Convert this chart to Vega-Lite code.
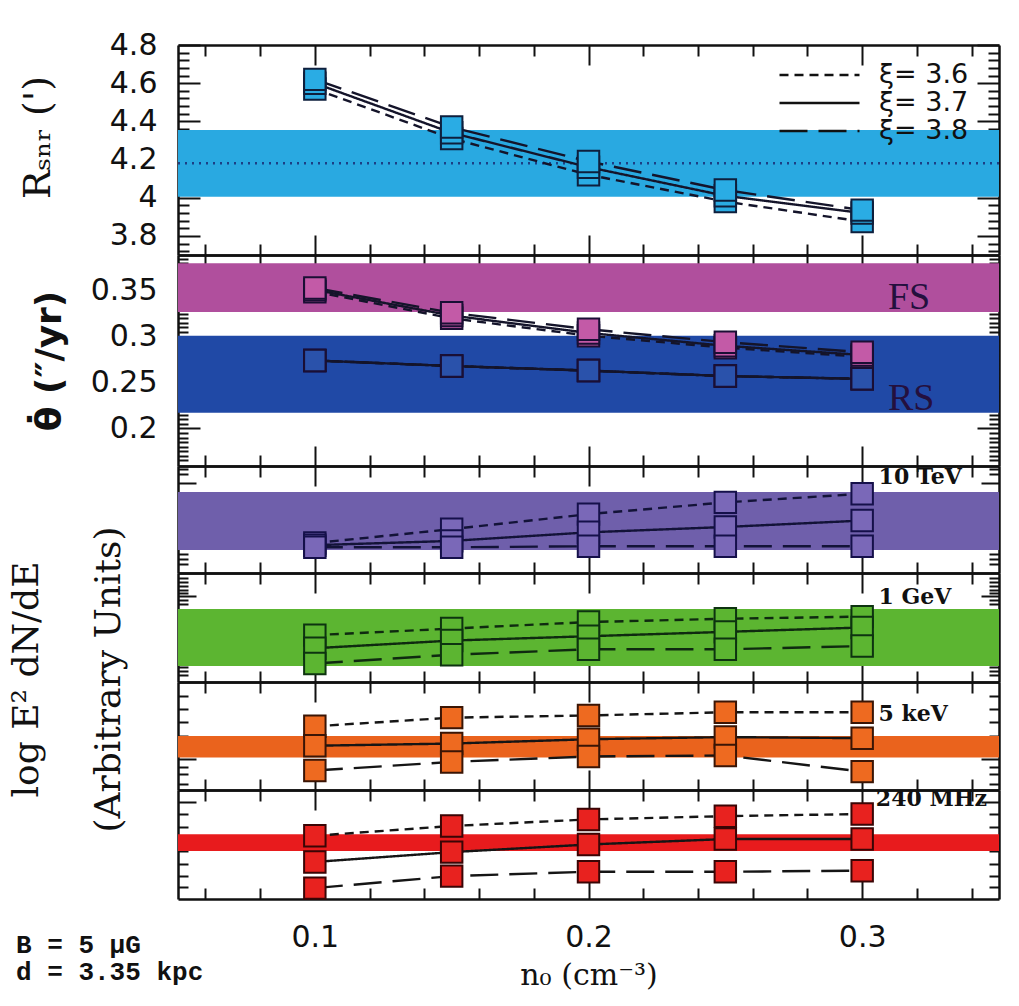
{
"$schema": "https://vega.github.io/schema/vega-lite/v6.json",
"background": "white",
"padding": {"left": 8, "top": 30, "right": 18, "bottom": 8},
"spacing": 0,
"bounds": "flush",
"title": {"text": ["B = 5 μG", "d = 3.35 kpc"], "orient": "bottom", "anchor": "start", "frame": "bounds", "font": "Liberation Mono", "fontSize": 26, "fontWeight": "bold", "color": "#111", "lineHeight": 27, "offset": -58, "dx": 8},
"resolve": {"legend": {"strokeDash": "independent"}},
"config": {
  "view": {"stroke": null},
  "axis": {"grid": false, "domainColor": "#111", "domainWidth": 2.5, "tickColor": "#111", "tickWidth": 2, "labelFont": "DejaVu Sans", "labelFontSize": 30, "labelColor": "#111", "labelOverlap": false, "labelFlush": false, "titleFont": "DejaVu Serif", "titleFontSize": 30, "titleColor": "#111", "titleFontWeight": "normal"}
},
"datasets": {
  "bands": [
    {"band": "R", "lo": 4.005, "hi": 4.355, "mid": 4.18, "label": ""},
    {"band": "FS", "lo": 0.327, "hi": 0.38, "mid": 0.353, "label": "FS"},
    {"band": "RS", "lo": 0.217, "hi": 0.301, "mid": 0.259, "label": "RS"},
    {"band": "TeV", "lo": 0.215, "hi": 0.757, "mid": 0.486, "label": "10 TeV"},
    {"band": "GeV", "lo": 0.147, "hi": 0.67, "mid": 0.41, "label": "1 GeV"},
    {"band": "keV", "lo": 0.3, "hi": 0.5, "mid": 0.4, "label": "5 keV"},
    {"band": "MHz", "lo": 0.44, "hi": 0.595, "mid": 0.52, "label": "240 MHz"}
  ],
  "rsnr": [
    {"n0": 0.1, "xi": "3.6", "v": 4.57}, {"n0": 0.15, "xi": "3.6", "v": 4.31}, {"n0": 0.2, "xi": "3.6", "v": 4.12}, {"n0": 0.25, "xi": "3.6", "v": 3.98}, {"n0": 0.3, "xi": "3.6", "v": 3.875},
    {"n0": 0.1, "xi": "3.7", "v": 4.6}, {"n0": 0.15, "xi": "3.7", "v": 4.34}, {"n0": 0.2, "xi": "3.7", "v": 4.16}, {"n0": 0.25, "xi": "3.7", "v": 4.01}, {"n0": 0.3, "xi": "3.7", "v": 3.92},
    {"n0": 0.1, "xi": "3.8", "v": 4.62}, {"n0": 0.15, "xi": "3.8", "v": 4.37}, {"n0": 0.2, "xi": "3.8", "v": 4.19}, {"n0": 0.25, "xi": "3.8", "v": 4.04}, {"n0": 0.3, "xi": "3.8", "v": 3.935}
  ],
  "theta": [
    {"n0": 0.1, "xi": "3.6", "shock": "FS", "v": 0.349}, {"n0": 0.15, "xi": "3.6", "shock": "FS", "v": 0.32}, {"n0": 0.2, "xi": "3.6", "shock": "FS", "v": 0.301}, {"n0": 0.25, "xi": "3.6", "shock": "FS", "v": 0.288}, {"n0": 0.3, "xi": "3.6", "shock": "FS", "v": 0.278},
    {"n0": 0.1, "xi": "3.7", "shock": "FS", "v": 0.351}, {"n0": 0.15, "xi": "3.7", "shock": "FS", "v": 0.323}, {"n0": 0.2, "xi": "3.7", "shock": "FS", "v": 0.304}, {"n0": 0.25, "xi": "3.7", "shock": "FS", "v": 0.29}, {"n0": 0.3, "xi": "3.7", "shock": "FS", "v": 0.28},
    {"n0": 0.1, "xi": "3.8", "shock": "FS", "v": 0.353}, {"n0": 0.15, "xi": "3.8", "shock": "FS", "v": 0.326}, {"n0": 0.2, "xi": "3.8", "shock": "FS", "v": 0.308}, {"n0": 0.25, "xi": "3.8", "shock": "FS", "v": 0.294}, {"n0": 0.3, "xi": "3.8", "shock": "FS", "v": 0.283},
    {"n0": 0.1, "xi": "3.6", "shock": "RS", "v": 0.274}, {"n0": 0.15, "xi": "3.6", "shock": "RS", "v": 0.268}, {"n0": 0.2, "xi": "3.6", "shock": "RS", "v": 0.263}, {"n0": 0.25, "xi": "3.6", "shock": "RS", "v": 0.257}, {"n0": 0.3, "xi": "3.6", "shock": "RS", "v": 0.254},
    {"n0": 0.1, "xi": "3.7", "shock": "RS", "v": 0.274}, {"n0": 0.15, "xi": "3.7", "shock": "RS", "v": 0.268}, {"n0": 0.2, "xi": "3.7", "shock": "RS", "v": 0.263}, {"n0": 0.25, "xi": "3.7", "shock": "RS", "v": 0.257}, {"n0": 0.3, "xi": "3.7", "shock": "RS", "v": 0.254},
    {"n0": 0.1, "xi": "3.8", "shock": "RS", "v": 0.274}, {"n0": 0.15, "xi": "3.8", "shock": "RS", "v": 0.268}, {"n0": 0.2, "xi": "3.8", "shock": "RS", "v": 0.263}, {"n0": 0.25, "xi": "3.8", "shock": "RS", "v": 0.257}, {"n0": 0.3, "xi": "3.8", "shock": "RS", "v": 0.254}
  ],
  "spec": [
    {"band": "TeV", "n0": 0.1, "xi": "3.6", "v": 0.28}, {"band": "TeV", "n0": 0.15, "xi": "3.6", "v": 0.41}, {"band": "TeV", "n0": 0.2, "xi": "3.6", "v": 0.55}, {"band": "TeV", "n0": 0.25, "xi": "3.6", "v": 0.66}, {"band": "TeV", "n0": 0.3, "xi": "3.6", "v": 0.74},
    {"band": "TeV", "n0": 0.1, "xi": "3.7", "v": 0.26}, {"band": "TeV", "n0": 0.15, "xi": "3.7", "v": 0.3}, {"band": "TeV", "n0": 0.2, "xi": "3.7", "v": 0.38}, {"band": "TeV", "n0": 0.25, "xi": "3.7", "v": 0.43}, {"band": "TeV", "n0": 0.3, "xi": "3.7", "v": 0.49},
    {"band": "TeV", "n0": 0.1, "xi": "3.8", "v": 0.24}, {"band": "TeV", "n0": 0.15, "xi": "3.8", "v": 0.24}, {"band": "TeV", "n0": 0.2, "xi": "3.8", "v": 0.25}, {"band": "TeV", "n0": 0.25, "xi": "3.8", "v": 0.25}, {"band": "TeV", "n0": 0.3, "xi": "3.8", "v": 0.25},
    {"band": "GeV", "n0": 0.1, "xi": "3.6", "v": 0.43}, {"band": "GeV", "n0": 0.15, "xi": "3.6", "v": 0.49}, {"band": "GeV", "n0": 0.2, "xi": "3.6", "v": 0.55}, {"band": "GeV", "n0": 0.25, "xi": "3.6", "v": 0.58}, {"band": "GeV", "n0": 0.3, "xi": "3.6", "v": 0.6},
    {"band": "GeV", "n0": 0.1, "xi": "3.7", "v": 0.31}, {"band": "GeV", "n0": 0.15, "xi": "3.7", "v": 0.38}, {"band": "GeV", "n0": 0.2, "xi": "3.7", "v": 0.42}, {"band": "GeV", "n0": 0.25, "xi": "3.7", "v": 0.46}, {"band": "GeV", "n0": 0.3, "xi": "3.7", "v": 0.5},
    {"band": "GeV", "n0": 0.1, "xi": "3.8", "v": 0.17}, {"band": "GeV", "n0": 0.15, "xi": "3.8", "v": 0.25}, {"band": "GeV", "n0": 0.2, "xi": "3.8", "v": 0.3}, {"band": "GeV", "n0": 0.25, "xi": "3.8", "v": 0.3}, {"band": "GeV", "n0": 0.3, "xi": "3.8", "v": 0.33},
    {"band": "keV", "n0": 0.1, "xi": "3.6", "v": 0.59}, {"band": "keV", "n0": 0.15, "xi": "3.6", "v": 0.67}, {"band": "keV", "n0": 0.2, "xi": "3.6", "v": 0.69}, {"band": "keV", "n0": 0.25, "xi": "3.6", "v": 0.72}, {"band": "keV", "n0": 0.3, "xi": "3.6", "v": 0.72},
    {"band": "keV", "n0": 0.1, "xi": "3.7", "v": 0.41}, {"band": "keV", "n0": 0.15, "xi": "3.7", "v": 0.43}, {"band": "keV", "n0": 0.2, "xi": "3.7", "v": 0.47}, {"band": "keV", "n0": 0.25, "xi": "3.7", "v": 0.49}, {"band": "keV", "n0": 0.3, "xi": "3.7", "v": 0.48},
    {"band": "keV", "n0": 0.1, "xi": "3.8", "v": 0.18}, {"band": "keV", "n0": 0.15, "xi": "3.8", "v": 0.26}, {"band": "keV", "n0": 0.2, "xi": "3.8", "v": 0.31}, {"band": "keV", "n0": 0.25, "xi": "3.8", "v": 0.32}, {"band": "keV", "n0": 0.3, "xi": "3.8", "v": 0.17},
    {"band": "MHz", "n0": 0.1, "xi": "3.6", "v": 0.58}, {"band": "MHz", "n0": 0.15, "xi": "3.6", "v": 0.67}, {"band": "MHz", "n0": 0.2, "xi": "3.6", "v": 0.73}, {"band": "MHz", "n0": 0.25, "xi": "3.6", "v": 0.76}, {"band": "MHz", "n0": 0.3, "xi": "3.6", "v": 0.78},
    {"band": "MHz", "n0": 0.1, "xi": "3.7", "v": 0.34}, {"band": "MHz", "n0": 0.15, "xi": "3.7", "v": 0.43}, {"band": "MHz", "n0": 0.2, "xi": "3.7", "v": 0.5}, {"band": "MHz", "n0": 0.25, "xi": "3.7", "v": 0.55}, {"band": "MHz", "n0": 0.3, "xi": "3.7", "v": 0.55},
    {"band": "MHz", "n0": 0.1, "xi": "3.8", "v": 0.1}, {"band": "MHz", "n0": 0.15, "xi": "3.8", "v": 0.21}, {"band": "MHz", "n0": 0.2, "xi": "3.8", "v": 0.25}, {"band": "MHz", "n0": 0.25, "xi": "3.8", "v": 0.25}, {"band": "MHz", "n0": 0.3, "xi": "3.8", "v": 0.26}
  ]
},
"vconcat": [
  {
    "width": 821, "height": 210,
    "resolve": {"axis": {"x": "independent", "y": "independent"}},
    "layer": [
      {"data": {"name": "bands"}, "transform": [{"filter": "datum.band === 'R'"}],
       "mark": {"type": "rect", "color": "#29a9e1"},
       "encoding": {
         "x": {"datum": 0.05, "type": "quantitative", "scale": {"domain": [0.05, 0.35], "nice": false, "zero": false}, "axis": {"orient": "bottom", "values": [0.1, 0.2, 0.3], "tickSize": -20, "labels": false, "title": null}},
         "x2": {"datum": 0.35},
         "y": {"field": "lo", "type": "quantitative", "scale": {"domain": [3.7, 4.8], "nice": false, "zero": false}, "axis": {"orient": "left", "values": [3.8, 4, 4.2, 4.4, 4.6, 4.8], "tickSize": -22, "labelPadding": 43, "labelExpr": "'' + datum.value", "title": "Rₛₙᵣ (')", "titleFontSize": 38, "titlePadding": 52, "titleY": 92}},
         "y2": {"field": "hi"}}},
      {"data": {"name": "bands"}, "transform": [{"filter": "datum.band === 'R'"}],
       "mark": {"type": "rule", "color": "#1c3f85", "strokeWidth": 2.5, "strokeDash": [2, 5]},
       "encoding": {
         "x": {"datum": 0.05, "type": "quantitative", "scale": {"domain": [0.05, 0.35], "nice": false, "zero": false}, "axis": {"orient": "bottom", "values": [0.06, 0.08, 0.12, 0.14, 0.16, 0.18, 0.22, 0.24, 0.26, 0.28, 0.32, 0.34], "tickSize": -11, "labels": false, "title": null, "domain": false}},
         "x2": {"datum": 0.35},
         "y": {"field": "mid", "type": "quantitative", "scale": {"domain": [3.7, 4.8], "nice": false, "zero": false}, "axis": {"orient": "left", "values": [3.72, 3.76, 3.84, 3.88, 3.92, 3.96, 4.04, 4.08, 4.12, 4.16, 4.24, 4.28, 4.32, 4.36, 4.44, 4.48, 4.52, 4.56, 4.64, 4.68, 4.72, 4.76], "tickSize": -11, "labels": false, "title": null, "domain": false}}}},
      {"data": {"name": "rsnr"},
       "mark": {"type": "line", "color": "#14142a", "strokeWidth": 2.4},
       "encoding": {
         "x": {"field": "n0", "type": "quantitative", "scale": {"domain": [0.05, 0.35], "nice": false, "zero": false}, "axis": {"orient": "top", "values": [0.1, 0.2, 0.3], "tickSize": -20, "labels": false, "title": null}},
         "y": {"field": "v", "type": "quantitative", "scale": {"domain": [3.7, 4.8], "nice": false, "zero": false}, "axis": {"orient": "right", "values": [3.8, 4, 4.2, 4.4, 4.6, 4.8], "tickSize": -22, "labels": false, "title": null}},
         "strokeDash": {"field": "xi", "type": "nominal", "scale": {"domain": ["3.6", "3.7", "3.8"], "range": [[9, 6], [1, 0], [28, 11]]},
           "legend": {"orient": "none", "legendX": 600, "legendY": 16, "title": null, "symbolType": "stroke", "symbolSize": 6400, "symbolStrokeWidth": 2.4, "symbolStrokeColor": "#111", "labelFont": "DejaVu Sans", "labelFontSize": 27, "labelColor": "#111", "labelExpr": "'ξ= ' + datum.label", "clipHeight": 28, "rowPadding": 0, "labelOffset": 18, "padding": 0}}}},
      {"data": {"name": "rsnr"},
       "mark": {"type": "point", "shape": "square", "filled": true, "fill": "#2aace4", "stroke": "#0e1f3d", "strokeWidth": 2, "size": 460, "opacity": 1},
       "encoding": {
         "x": {"field": "n0", "type": "quantitative", "scale": {"domain": [0.05, 0.35], "nice": false, "zero": false}, "axis": {"orient": "top", "values": [0.06, 0.08, 0.12, 0.14, 0.16, 0.18, 0.22, 0.24, 0.26, 0.28, 0.32, 0.34], "tickSize": -11, "labels": false, "title": null, "domain": false}},
         "y": {"field": "v", "type": "quantitative", "scale": {"domain": [3.7, 4.8], "nice": false, "zero": false}, "axis": {"orient": "right", "values": [3.72, 3.76, 3.84, 3.88, 3.92, 3.96, 4.04, 4.08, 4.12, 4.16, 4.24, 4.28, 4.32, 4.36, 4.44, 4.48, 4.52, 4.56, 4.64, 4.68, 4.72, 4.76], "tickSize": -11, "labels": false, "title": null, "domain": false}}}}
    ]
  },
  {
    "width": 821, "height": 211,
    "resolve": {"axis": {"x": "independent", "y": "independent"}},
    "layer": [
      {"data": {"name": "bands"}, "transform": [{"filter": "datum.band === 'FS' || datum.band === 'RS'"}],
       "mark": {"type": "rect"},
       "encoding": {
         "x": {"datum": 0.05, "type": "quantitative", "scale": {"domain": [0.05, 0.35], "nice": false, "zero": false}, "axis": {"orient": "bottom", "values": [0.1, 0.2, 0.3], "tickSize": -20, "labels": false, "title": null}},
         "x2": {"datum": 0.35},
         "y": {"field": "lo", "type": "quantitative", "scale": {"domain": [0.159, 0.389], "nice": false, "zero": false}, "axis": {"orient": "left", "values": [0.2, 0.25, 0.3, 0.35], "tickSize": -22, "labelPadding": 43, "labelExpr": "'' + datum.value", "title": "θ̇ (″/yr)", "titleFont": "DejaVu Sans", "titleFontWeight": "bold", "titleFontSize": 36, "titlePadding": 22}},
         "y2": {"field": "hi"},
         "color": {"field": "band", "type": "nominal", "scale": {"domain": ["FS", "RS"], "range": ["#b04f9d", "#2049a6"]}, "legend": null}}},
      {"data": {"name": "theta"},
       "mark": {"type": "line", "color": "#14142a", "strokeWidth": 2.4},
       "encoding": {
         "x": {"field": "n0", "type": "quantitative", "scale": {"domain": [0.05, 0.35], "nice": false, "zero": false}, "axis": {"orient": "bottom", "values": [0.06, 0.08, 0.12, 0.14, 0.16, 0.18, 0.22, 0.24, 0.26, 0.28, 0.32, 0.34], "tickSize": -11, "labels": false, "title": null, "domain": false}},
         "y": {"field": "v", "type": "quantitative", "scale": {"domain": [0.159, 0.389], "nice": false, "zero": false}, "axis": {"orient": "left", "values": [0.165, 0.17, 0.175, 0.18, 0.185, 0.19, 0.195, 0.205, 0.21, 0.215, 0.22, 0.225, 0.23, 0.235, 0.24, 0.245, 0.255, 0.26, 0.265, 0.27, 0.275, 0.28, 0.285, 0.29, 0.295, 0.305, 0.31, 0.315, 0.32, 0.325, 0.33, 0.335, 0.34, 0.345, 0.355, 0.36, 0.365, 0.37, 0.375, 0.38, 0.385], "tickSize": -10, "labels": false, "title": null, "domain": false}},
         "detail": {"field": "shock"},
         "strokeDash": {"field": "xi", "type": "nominal", "scale": {"domain": ["3.6", "3.7", "3.8"], "range": [[9, 6], [1, 0], [28, 11]]}, "legend": null}}},
      {"data": {"name": "theta"},
       "mark": {"type": "point", "shape": "square", "filled": true, "stroke": "#1a0f35", "strokeWidth": 2, "size": 460, "opacity": 1},
       "encoding": {
         "x": {"field": "n0", "type": "quantitative", "scale": {"domain": [0.05, 0.35], "nice": false, "zero": false}, "axis": {"orient": "top", "values": [0.1, 0.2, 0.3], "tickSize": -20, "labels": false, "title": null}},
         "y": {"field": "v", "type": "quantitative", "scale": {"domain": [0.159, 0.389], "nice": false, "zero": false}, "axis": {"orient": "right", "values": [0.2, 0.25, 0.3, 0.35], "tickSize": -22, "labels": false, "title": null}},
         "fill": {"field": "shock", "type": "nominal", "scale": {"domain": ["FS", "RS"], "range": ["#c35aa7", "#2a52ab"]}, "legend": null}}},
      {"data": {"name": "bands"}, "transform": [{"filter": "datum.band === 'FS' || datum.band === 'RS'"}],
       "mark": {"type": "text", "align": "left", "baseline": "bottom", "dy": 5, "font": "Liberation Serif", "fontSize": 38, "color": "#24103e"},
       "encoding": {
         "x": {"datum": 0.3094, "type": "quantitative", "scale": {"domain": [0.05, 0.35], "nice": false, "zero": false}, "axis": {"orient": "top", "values": [0.06, 0.08, 0.12, 0.14, 0.16, 0.18, 0.22, 0.24, 0.26, 0.28, 0.32, 0.34], "tickSize": -11, "labels": false, "title": null, "domain": false}},
         "y": {"field": "lo", "type": "quantitative", "scale": {"domain": [0.159, 0.389], "nice": false, "zero": false}, "axis": {"orient": "right", "values": [0.165, 0.17, 0.175, 0.18, 0.185, 0.19, 0.195, 0.205, 0.21, 0.215, 0.22, 0.225, 0.23, 0.235, 0.24, 0.245, 0.255, 0.26, 0.265, 0.27, 0.275, 0.28, 0.285, 0.29, 0.295, 0.305, 0.31, 0.315, 0.32, 0.325, 0.33, 0.335, 0.34, 0.345, 0.355, 0.36, 0.365, 0.37, 0.375, 0.38, 0.385], "tickSize": -10, "labels": false, "title": null, "domain": false}},
         "text": {"field": "label"}}}
    ]
  },
  {
    "width": 821, "height": 107,
    "resolve": {"axis": {"x": "independent", "y": "independent"}},
    "layer": [
      {"data": {"name": "bands"}, "transform": [{"filter": "datum.band === 'TeV'"}],
       "mark": {"type": "rect", "color": "#6f5fab"},
       "encoding": {
         "x": {"datum": 0.05, "type": "quantitative", "scale": {"domain": [0.05, 0.35], "nice": false, "zero": false}, "axis": {"orient": "bottom", "values": [0.1, 0.2, 0.3], "tickSize": -20, "labels": false, "title": null}},
         "x2": {"datum": 0.35},
         "y": {"field": "lo", "type": "quantitative", "scale": {"domain": [0, 1], "nice": false, "zero": false}, "axis": {"orient": "left", "values": [0.84], "tickSize": -18, "labels": false, "title": null}},
         "y2": {"field": "hi"}}},
      {"data": {"name": "spec"}, "transform": [{"filter": "datum.band === 'TeV'"}],
       "mark": {"type": "line", "color": "#131338", "strokeWidth": 2.4},
       "encoding": {
         "x": {"field": "n0", "type": "quantitative", "scale": {"domain": [0.05, 0.35], "nice": false, "zero": false}, "axis": {"orient": "bottom", "values": [0.06, 0.08, 0.12, 0.14, 0.16, 0.18, 0.22, 0.24, 0.26, 0.28, 0.32, 0.34], "tickSize": -11, "labels": false, "title": null, "domain": false}},
         "y": {"field": "v", "type": "quantitative", "scale": {"domain": [0, 1], "nice": false, "zero": false}, "axis": {"orient": "left", "values": [0.085, 0.13, 0.175, 0.925, 0.97], "tickSize": -10, "labels": false, "title": null, "domain": false}},
         "strokeDash": {"field": "xi", "type": "nominal", "scale": {"domain": ["3.6", "3.7", "3.8"], "range": [[9, 6], [1, 0], [28, 11]]}, "legend": null}}},
      {"data": {"name": "spec"}, "transform": [{"filter": "datum.band === 'TeV'"}],
       "mark": {"type": "point", "shape": "square", "filled": true, "fill": "#7a68b8", "stroke": "#15104a", "strokeWidth": 2, "size": 460, "opacity": 1},
       "encoding": {
         "x": {"field": "n0", "type": "quantitative", "scale": {"domain": [0.05, 0.35], "nice": false, "zero": false}, "axis": {"orient": "top", "values": [0.1, 0.2, 0.3], "tickSize": -20, "labels": false, "title": null}},
         "y": {"field": "v", "type": "quantitative", "scale": {"domain": [0, 1], "nice": false, "zero": false}, "axis": {"orient": "right", "values": [0.84], "tickSize": -18, "labels": false, "title": null}}}},
      {"data": {"name": "bands"}, "transform": [{"filter": "datum.band === 'TeV'"}],
       "mark": {"type": "text", "align": "left", "baseline": "middle", "font": "DejaVu Serif", "fontWeight": "bold", "fontSize": 22, "color": "#111"},
       "encoding": {
         "x": {"datum": 0.306, "type": "quantitative", "scale": {"domain": [0.05, 0.35], "nice": false, "zero": false}, "axis": {"orient": "top", "values": [0.06, 0.08, 0.12, 0.14, 0.16, 0.18, 0.22, 0.24, 0.26, 0.28, 0.32, 0.34], "tickSize": -11, "labels": false, "title": null, "domain": false}},
         "y": {"datum": 0.9, "type": "quantitative", "scale": {"domain": [0, 1], "nice": false, "zero": false}, "axis": {"orient": "right", "values": [0.085, 0.13, 0.175, 0.925, 0.97], "tickSize": -10, "labels": false, "title": null, "domain": false}},
         "text": {"field": "label"}}}
    ]
  },
  {
    "width": 821, "height": 109,
    "resolve": {"axis": {"x": "independent", "y": "independent"}},
    "layer": [
      {"data": {"name": "bands"}, "transform": [{"filter": "datum.band === 'GeV'"}],
       "mark": {"type": "rect", "color": "#5cb531"},
       "encoding": {
         "x": {"datum": 0.05, "type": "quantitative", "scale": {"domain": [0.05, 0.35], "nice": false, "zero": false}, "axis": {"orient": "bottom", "values": [0.1, 0.2, 0.3], "tickSize": -20, "labels": false, "title": null}},
         "x2": {"datum": 0.35},
         "y": {"field": "lo", "type": "quantitative", "scale": {"domain": [0, 1], "nice": false, "zero": false}, "axis": {"orient": "left", "values": [0.79], "tickSize": -18, "labels": false, "title": ["log E²  dN/dE", "(Arbitrary Units)"], "titleFontSize": 36, "titleLineHeight": 82, "titlePadding": 50, "titleY": 106}},
         "y2": {"field": "hi"}}},
      {"data": {"name": "spec"}, "transform": [{"filter": "datum.band === 'GeV'"}],
       "mark": {"type": "line", "color": "#0f2a10", "strokeWidth": 2.4},
       "encoding": {
         "x": {"field": "n0", "type": "quantitative", "scale": {"domain": [0.05, 0.35], "nice": false, "zero": false}, "axis": {"orient": "bottom", "values": [0.06, 0.08, 0.12, 0.14, 0.16, 0.18, 0.22, 0.24, 0.26, 0.28, 0.32, 0.34], "tickSize": -11, "labels": false, "title": null, "domain": false}},
         "y": {"field": "v", "type": "quantitative", "scale": {"domain": [0, 1], "nice": false, "zero": false}, "axis": {"orient": "left", "values": [0.065, 0.1, 0.14, 0.175, 0.715, 0.75, 0.82, 0.845, 0.88, 0.915, 0.955], "tickSize": -10, "labels": false, "title": null, "domain": false}},
         "strokeDash": {"field": "xi", "type": "nominal", "scale": {"domain": ["3.6", "3.7", "3.8"], "range": [[9, 6], [1, 0], [28, 11]]}, "legend": null}}},
      {"data": {"name": "spec"}, "transform": [{"filter": "datum.band === 'GeV'"}],
       "mark": {"type": "point", "shape": "square", "filled": true, "fill": "#5cb531", "stroke": "#0d3310", "strokeWidth": 2, "size": 460, "opacity": 1},
       "encoding": {
         "x": {"field": "n0", "type": "quantitative", "scale": {"domain": [0.05, 0.35], "nice": false, "zero": false}, "axis": {"orient": "top", "values": [0.1, 0.2, 0.3], "tickSize": -20, "labels": false, "title": null}},
         "y": {"field": "v", "type": "quantitative", "scale": {"domain": [0, 1], "nice": false, "zero": false}, "axis": {"orient": "right", "values": [0.79], "tickSize": -18, "labels": false, "title": null}}}},
      {"data": {"name": "bands"}, "transform": [{"filter": "datum.band === 'GeV'"}],
       "mark": {"type": "text", "align": "left", "baseline": "middle", "font": "DejaVu Serif", "fontWeight": "bold", "fontSize": 22, "color": "#111"},
       "encoding": {
         "x": {"datum": 0.306, "type": "quantitative", "scale": {"domain": [0.05, 0.35], "nice": false, "zero": false}, "axis": {"orient": "top", "values": [0.06, 0.08, 0.12, 0.14, 0.16, 0.18, 0.22, 0.24, 0.26, 0.28, 0.32, 0.34], "tickSize": -11, "labels": false, "title": null, "domain": false}},
         "y": {"datum": 0.78, "type": "quantitative", "scale": {"domain": [0, 1], "nice": false, "zero": false}, "axis": {"orient": "right", "values": [0.065, 0.1, 0.14, 0.175, 0.715, 0.75, 0.82, 0.845, 0.88, 0.915, 0.955], "tickSize": -10, "labels": false, "title": null, "domain": false}},
         "text": {"field": "label"}}}
    ]
  },
  {
    "width": 821, "height": 108,
    "resolve": {"axis": {"x": "independent", "y": "independent"}},
    "layer": [
      {"data": {"name": "bands"}, "transform": [{"filter": "datum.band === 'keV'"}],
       "mark": {"type": "rect", "color": "#ea631d"},
       "encoding": {
         "x": {"datum": 0.05, "type": "quantitative", "scale": {"domain": [0.05, 0.35], "nice": false, "zero": false}, "axis": {"orient": "bottom", "values": [0.1, 0.2, 0.3], "tickSize": -20, "labels": false, "title": null}},
         "x2": {"datum": 0.35},
         "y": {"field": "lo", "type": "quantitative", "scale": {"domain": [0, 1], "nice": false, "zero": false}, "axis": {"orient": "left", "values": [0.29], "tickSize": -18, "labels": false, "title": null}},
         "y2": {"field": "hi"}}},
      {"data": {"name": "spec"}, "transform": [{"filter": "datum.band === 'keV'"}],
       "mark": {"type": "line", "color": "#151515", "strokeWidth": 2.4},
       "encoding": {
         "x": {"field": "n0", "type": "quantitative", "scale": {"domain": [0.05, 0.35], "nice": false, "zero": false}, "axis": {"orient": "bottom", "values": [0.06, 0.08, 0.12, 0.14, 0.16, 0.18, 0.22, 0.24, 0.26, 0.28, 0.32, 0.34], "tickSize": -11, "labels": false, "title": null, "domain": false}},
         "y": {"field": "v", "type": "quantitative", "scale": {"domain": [0, 1], "nice": false, "zero": false}, "axis": {"orient": "left", "values": [0.06, 0.15, 0.21, 0.5, 0.63, 0.75, 0.87], "tickSize": -10, "labels": false, "title": null, "domain": false}},
         "strokeDash": {"field": "xi", "type": "nominal", "scale": {"domain": ["3.6", "3.7", "3.8"], "range": [[9, 6], [1, 0], [28, 11]]}, "legend": null}}},
      {"data": {"name": "spec"}, "transform": [{"filter": "datum.band === 'keV'"}],
       "mark": {"type": "point", "shape": "square", "filled": true, "fill": "#ee6a20", "stroke": "#3a1505", "strokeWidth": 2, "size": 460, "opacity": 1},
       "encoding": {
         "x": {"field": "n0", "type": "quantitative", "scale": {"domain": [0.05, 0.35], "nice": false, "zero": false}, "axis": {"orient": "top", "values": [0.1, 0.2, 0.3], "tickSize": -20, "labels": false, "title": null}},
         "y": {"field": "v", "type": "quantitative", "scale": {"domain": [0, 1], "nice": false, "zero": false}, "axis": {"orient": "right", "values": [0.29], "tickSize": -18, "labels": false, "title": null}}}},
      {"data": {"name": "bands"}, "transform": [{"filter": "datum.band === 'keV'"}],
       "mark": {"type": "text", "align": "left", "baseline": "middle", "font": "DejaVu Serif", "fontWeight": "bold", "fontSize": 22, "color": "#111"},
       "encoding": {
         "x": {"datum": 0.306, "type": "quantitative", "scale": {"domain": [0.05, 0.35], "nice": false, "zero": false}, "axis": {"orient": "top", "values": [0.06, 0.08, 0.12, 0.14, 0.16, 0.18, 0.22, 0.24, 0.26, 0.28, 0.32, 0.34], "tickSize": -11, "labels": false, "title": null, "domain": false}},
         "y": {"datum": 0.7, "type": "quantitative", "scale": {"domain": [0, 1], "nice": false, "zero": false}, "axis": {"orient": "right", "values": [0.06, 0.15, 0.21, 0.5, 0.63, 0.75, 0.87], "tickSize": -10, "labels": false, "title": null, "domain": false}},
         "text": {"field": "label"}}}
    ]
  },
  {
    "width": 821, "height": 109,
    "resolve": {"axis": {"x": "independent", "y": "independent"}},
    "layer": [
      {"data": {"name": "bands"}, "transform": [{"filter": "datum.band === 'MHz'"}],
       "mark": {"type": "rect", "color": "#e81b1d"},
       "encoding": {
         "x": {"datum": 0.05, "type": "quantitative", "scale": {"domain": [0.05, 0.35], "nice": false, "zero": false}, "axis": {"orient": "bottom", "values": [0.1, 0.2, 0.3], "tickSize": -20, "labels": true, "labelPadding": 43, "labelExpr": "'' + datum.value", "title": "n₀ (cm⁻³)", "titlePadding": 8}},
         "x2": {"datum": 0.35},
         "y": {"field": "lo", "type": "quantitative", "scale": {"domain": [0, 1], "nice": false, "zero": false}, "axis": {"orient": "left", "values": [0.89], "tickSize": -18, "labels": false, "title": null}},
         "y2": {"field": "hi"}}},
      {"data": {"name": "spec"}, "transform": [{"filter": "datum.band === 'MHz'"}],
       "mark": {"type": "line", "color": "#151515", "strokeWidth": 2.4},
       "encoding": {
         "x": {"field": "n0", "type": "quantitative", "scale": {"domain": [0.05, 0.35], "nice": false, "zero": false}, "axis": {"orient": "bottom", "values": [0.06, 0.08, 0.12, 0.14, 0.16, 0.18, 0.22, 0.24, 0.26, 0.28, 0.32, 0.34], "tickSize": -11, "labels": false, "title": null, "domain": false}},
         "y": {"field": "v", "type": "quantitative", "scale": {"domain": [0, 1], "nice": false, "zero": false}, "axis": {"orient": "left", "values": [0.11, 0.21, 0.32, 0.44, 0.55, 0.66, 0.78], "tickSize": -10, "labels": false, "title": null, "domain": false}},
         "strokeDash": {"field": "xi", "type": "nominal", "scale": {"domain": ["3.6", "3.7", "3.8"], "range": [[9, 6], [1, 0], [28, 11]]}, "legend": null}}},
      {"data": {"name": "spec"}, "transform": [{"filter": "datum.band === 'MHz'"}],
       "mark": {"type": "point", "shape": "square", "filled": true, "fill": "#e8221f", "stroke": "#3a0505", "strokeWidth": 2, "size": 460, "opacity": 1},
       "encoding": {
         "x": {"field": "n0", "type": "quantitative", "scale": {"domain": [0.05, 0.35], "nice": false, "zero": false}, "axis": {"orient": "top", "values": [0.1, 0.2, 0.3], "tickSize": -20, "labels": false, "title": null}},
         "y": {"field": "v", "type": "quantitative", "scale": {"domain": [0, 1], "nice": false, "zero": false}, "axis": {"orient": "right", "values": [0.89], "tickSize": -18, "labels": false, "title": null}}}},
      {"data": {"name": "bands"}, "transform": [{"filter": "datum.band === 'MHz'"}],
       "mark": {"type": "text", "align": "left", "baseline": "middle", "font": "DejaVu Serif", "fontWeight": "bold", "fontSize": 22, "color": "#111"},
       "encoding": {
         "x": {"datum": 0.305, "type": "quantitative", "scale": {"domain": [0.05, 0.35], "nice": false, "zero": false}, "axis": {"orient": "top", "values": [0.06, 0.08, 0.12, 0.14, 0.16, 0.18, 0.22, 0.24, 0.26, 0.28, 0.32, 0.34], "tickSize": -11, "labels": false, "title": null, "domain": false}},
         "y": {"datum": 0.92, "type": "quantitative", "scale": {"domain": [0, 1], "nice": false, "zero": false}, "axis": {"orient": "right", "values": [0.11, 0.21, 0.32, 0.44, 0.55, 0.66, 0.78], "tickSize": -10, "labels": false, "title": null, "domain": false}},
         "text": {"field": "label"}}}
    ]
  }
]
}
